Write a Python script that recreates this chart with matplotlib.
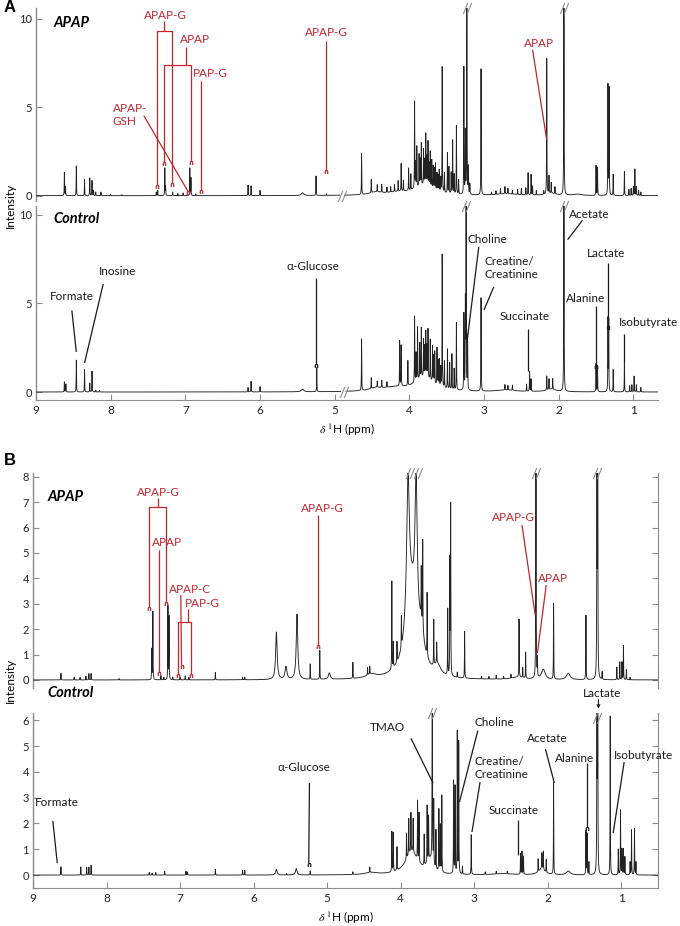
import numpy as np
import matplotlib
matplotlib.use("Agg")
import matplotlib.pyplot as plt
from matplotlib.path import Path

plt.rcParams['font.family'] = ['Lato', 'DejaVu Sans']
plt.rcParams['mathtext.fontset'] = 'stix'

# ---------------- data: peak lists (ppm, intensity) ----------------
# Panel A, APAP
a_apap_ppm = [8.62, 8.605, 8.46, 8.35, 8.28, 8.25, 8.23, 8.20, 8.13, 8.00, 7.85, 7.39, 7.37, 7.275, 7.265,
              7.17, 7.10, 7.03, 6.94, 6.925, 6.86, 6.16, 6.12, 6.00, 5.25, 5.11,
              4.64, 4.51, 4.43, 4.37, 4.30, 4.25, 4.20, 4.15, 4.11, 4.08, 4.01, 3.98, 3.93, 3.915, 3.90,
              3.87, 3.855, 3.84, 3.81, 3.795, 3.78, 3.765, 3.75, 3.735, 3.72, 3.70, 3.68, 3.665, 3.65,
              3.63, 3.615, 3.60, 3.58, 3.56, 3.53, 3.49, 3.47, 3.44, 3.42, 3.40, 3.37, 3.34, 3.27, 3.25,
              3.23, 3.21, 3.19, 3.04, 2.90, 2.84, 2.78, 2.72, 2.68, 2.62, 2.55, 2.50, 2.44, 2.41, 2.37,
              2.35, 2.30, 2.20, 2.16, 2.13, 2.10, 2.05, 1.93, 1.50, 1.48, 1.34, 1.325, 1.27, 1.12, 1.06,
              1.03, 1.00, 0.98, 0.96, 0.93, 0.90]
a_apap_int = [1.30, 0.50, 1.68, 0.92, 1.00, 0.85, 0.30, 0.20, 0.20, 0.08, 0.05, 0.20, 0.30, 1.55, 0.50,
              0.20, 0.12, 0.15, 1.55, 1.00, 0.10, 0.60, 0.55, 0.30, 1.10, 0.08,
              2.34, 0.74, 0.40, 0.45, 0.30, 0.30, 0.40, 0.60, 1.55, 0.60, 1.26, 0.90, 4.93, 1.40, 2.30,
              1.80, 1.50, 2.39, 2.00, 1.40, 2.86, 1.60, 2.50, 1.30, 2.00, 1.60, 1.30, 1.20, 1.50,
              1.00, 0.90, 1.20, 0.80, 7.16, 1.10, 2.30, 1.50, 1.20, 3.05, 1.10, 3.88, 0.80, 7.16, 3.50,
              15.0, 1.50, 0.60, 7.14, 0.15, 0.20, 0.30, 0.40, 0.30, 0.20, 0.30, 0.35, 0.40, 1.26, 1.17,
              0.50, 0.25, 0.20, 7.70, 1.00, 0.60, 0.40, 15.0, 1.70, 1.60, 6.25, 6.10, 1.20, 1.36, 0.35,
              0.40, 0.50, 1.50, 0.50, 0.30, 0.20]
a_apap_broad_ppm = [3.80, 4.15, 2.70, 2.10, 1.75, 5.43, 4.45]
a_apap_broad_int = [0.55, 0.15, 0.10, 0.12, 0.08, 0.15, 0.15]
a_apap_broad_wid = [0.15, 0.20, 0.15, 0.08, 0.06, 0.02, 0.10]

# Panel A, Control
a_ctrl_ppm = [8.62, 8.60, 8.46, 8.35, 8.28, 8.25, 8.20, 8.15, 6.16, 6.12, 6.00, 5.24,
              4.64, 4.51, 4.43, 4.37, 4.30, 4.13, 4.11, 4.02, 3.93, 3.91, 3.89, 3.86, 3.84, 3.81, 3.795,
              3.78, 3.765, 3.75, 3.72, 3.69, 3.675, 3.66, 3.63, 3.615, 3.60, 3.58, 3.56, 3.53, 3.49,
              3.46, 3.43, 3.40, 3.37, 3.27, 3.25, 3.24, 3.22, 3.04, 2.72, 2.68, 2.62, 2.43, 2.39, 2.37,
              2.16, 2.13, 2.08, 1.93, 1.50, 1.48, 1.34, 1.33, 1.27, 1.12, 1.05, 1.02, 0.99, 0.96, 0.90]
a_ctrl_int = [0.57, 0.45, 1.80, 1.26, 0.50, 1.17, 0.10, 0.10, 0.25, 0.60, 0.30, 1.36,
              2.92, 0.60, 0.35, 0.40, 0.30, 2.55, 2.30, 1.40, 3.74, 1.60, 3.00, 2.00, 2.83, 2.10, 1.70,
              2.55, 1.80, 2.77, 2.30, 2.00, 1.50, 1.80, 2.10, 1.40, 1.50, 1.10, 7.58, 1.50, 2.26,
              1.50, 2.00, 1.20, 3.83, 4.28, 4.70, 15.0, 3.00, 5.28, 0.30, 0.25, 0.30, 0.40, 1.13, 0.70,
              0.80, 0.60, 0.60, 15.0, 1.60, 1.50, 4.10, 4.00, 1.26, 1.70, 0.35, 0.40, 0.89, 0.40, 0.25]
a_ctrl_broad_ppm = [3.80, 4.20, 2.70, 2.10, 5.43, 4.45]
a_ctrl_broad_int = [0.80, 0.20, 0.10, 0.15, 0.15, 0.15]
a_ctrl_broad_wid = [0.15, 0.20, 0.15, 0.08, 0.02, 0.10]

# Panel B, APAP
b_apap_ppm = [8.62, 8.44, 8.36, 8.28, 8.24, 8.21, 7.83, 7.385, 7.37, 7.26, 7.22, 7.165, 7.15, 7.10,
              7.00, 6.93, 6.88, 6.52, 6.15, 6.12, 5.23, 5.10, 4.65, 4.45, 4.42, 4.12, 4.10, 4.05, 3.99,
              3.72, 3.70, 3.64, 3.55, 3.51, 3.36, 3.33, 3.32, 3.23, 3.13, 2.90, 2.80,
              2.70, 2.60, 2.50, 2.39, 2.34, 2.30, 2.16, 2.14, 1.92, 1.48, 1.33, 1.32, 1.26, 1.06, 1.02,
              0.99, 0.97, 0.93, 0.88]
b_apap_int = [0.26, 0.10, 0.10, 0.15, 0.25, 0.25, 0.05, 1.20, 2.70, 0.15, 0.10, 2.90, 2.50, 0.10,
              0.10, 0.15, 0.10, 0.30, 0.10, 0.10, 0.60, 1.15, 0.63, 0.30, 0.30, 3.50, 1.00, 0.80, 1.20,
              2.00, 3.50, 2.50, 1.80, 0.80, 2.60, 4.47, 6.70, 0.20, 1.84, 0.10, 0.10,
              0.15, 0.10, 0.15, 2.28, 0.40, 1.03, 15.0, 0.70, 2.99, 2.54, 15.0, 12.0, 0.30, 0.50, 0.70,
              0.70, 1.34, 0.40, 0.10]
b_apap_broad_ppm = [5.69, 5.56, 5.41, 4.97, 3.85, 3.90, 3.79, 3.72, 3.50, 2.06, 1.72, 4.40, 2.40]
b_apap_broad_int = [1.87, 0.50, 2.57, 0.25, 3.20, 5.50, 5.50, 1.00, 0.40, 0.40, 0.25, 0.15, 0.10]
b_apap_broad_wid = [0.012, 0.015, 0.012, 0.015, 0.09, 0.022, 0.018, 0.05, 0.05, 0.03, 0.03, 0.08, 0.10]

# Panel B, Control
b_ctrl_ppm = [8.62, 8.35, 8.27, 8.24, 8.21, 7.42, 7.38, 7.33, 7.21, 6.92, 6.90, 6.52, 6.15, 6.12, 5.55,
              5.23, 4.65, 4.42, 4.12, 4.10, 4.05, 3.92, 3.89, 3.86, 3.83, 3.77, 3.75, 3.68, 3.64, 3.62,
              3.57, 3.55, 3.52, 3.48, 3.46, 3.44, 3.28, 3.26, 3.23, 3.21, 3.16, 3.04, 2.85, 2.70, 2.55,
              2.37, 2.35, 2.33, 2.13, 2.08, 2.06, 2.02, 1.92, 1.48, 1.465, 1.44, 1.33, 1.32, 1.15, 1.04,
              1.01, 0.99, 0.97, 0.95, 0.88, 0.86, 0.82, 0.80]
b_ctrl_int = [0.32, 0.32, 0.30, 0.30, 0.38, 0.10, 0.08, 0.10, 0.15, 0.15, 0.12, 0.22, 0.18, 0.18, 0.05,
              0.15, 0.10, 0.20, 1.57, 1.50, 0.90, 1.00, 1.40, 1.50, 1.30, 2.30, 1.90, 1.20, 2.20, 1.70,
              12.0, 2.50, 1.50, 2.40, 1.80, 3.00, 3.60, 3.40, 5.50, 5.16, 0.30, 1.55, 0.10, 0.10, 0.10,
              0.80, 0.90, 0.70, 0.50, 0.60, 0.70, 0.50, 3.55, 1.70, 1.60, 0.50, 12.0, 11.0, 6.20, 1.00,
              2.50, 1.00, 1.00, 0.70, 0.50, 1.75, 1.80, 0.50]
b_ctrl_broad_ppm = [5.69, 5.42, 3.85, 3.60, 2.08, 1.72, 4.40, 2.60]
b_ctrl_broad_int = [0.22, 0.25, 0.90, 0.50, 0.25, 0.15, 0.08, 0.05]
b_ctrl_broad_wid = [0.012, 0.012, 0.10, 0.05, 0.05, 0.03, 0.10, 0.15]

# tick labels
x_ticks = [9, 8, 7, 6, 5, 4, 3, 2, 1]
a_yticks = [0, 5, 10]
b_apap_yticks = [0, 1, 2, 3, 4, 5, 6, 7, 8]
b_ctrl_yticks = [0, 1, 2, 3, 4, 5, 6]

RED = '#C1272D'
LINE = '#222222'
AXC = '#8c8c8c'
K = '#1a1a1a'
SHARP_W = 0.0022

W, H = 680, 926
fig = plt.figure(figsize=(W / 100, H / 100), dpi=100)


def add_ax(left, right, top, bottom):
    return fig.add_axes([left / W, 1 - bottom / H, (right - left) / W, (bottom - top) / H])


def spectrum(grid, ppm, inten, bppm, bint, bwid):
    y = np.zeros_like(grid)
    for p, h in zip(ppm, inten):
        y += h * SHARP_W ** 2 / ((grid - p) ** 2 + SHARP_W ** 2)
    for p, h, w in zip(bppm, bint, bwid):
        y += h * w ** 2 / ((grid - p) ** 2 + w ** 2)
    return y


arch = Path([(-0.35, -1.0), (-0.35, -0.25), (-0.2, 0.0), (0.2, 0.0), (0.35, -0.25), (0.35, -1.0)],
            [Path.MOVETO] + [Path.LINETO] * 5)
rectm = Path([(-0.35, -1.0), (-0.35, 0.0), (0.35, 0.0), (0.35, -1.0), (-0.35, -1.0)],
             [Path.MOVETO] + [Path.LINETO] * 4)
slash = Path([(-0.75, -1.0), (0.05, 1.0), (-0.05, -1.0), (0.75, 1.0)],
             [Path.MOVETO, Path.LINETO, Path.MOVETO, Path.LINETO])


def style(ax, xlim, ylim, yticks, bottom=False, right=False):
    ax.set_xlim(*xlim)
    ax.set_ylim(*ylim)
    ax.patch.set_alpha(0)
    for s in ['top', 'right', 'bottom', 'left']:
        ax.spines[s].set_visible(False)
    ax.spines['left'].set_visible(True)
    ax.spines['left'].set_color(AXC)
    ax.spines['left'].set_linewidth(1.0)
    ax.set_yticks(yticks)
    ax.tick_params(axis='y', direction='in', length=4, color=AXC, labelsize=8, labelcolor='#222',
                   right=right, pad=3)
    if right:
        ax.spines['right'].set_visible(True)
        ax.spines['right'].set_color(AXC)
    if bottom:
        ax.spines['bottom'].set_visible(True)
        ax.spines['bottom'].set_color(AXC)
        ax.set_xticks(x_ticks)
        ax.set_xticklabels([str(t) for t in x_ticks])
        ax.tick_params(axis='x', direction='in', length=4, color=AXC, labelsize=8.5, labelcolor='#222')
    else:
        ax.set_xticks([])


def end_mark(ax, x, y, color, m=None):
    ax.plot([x], [y], marker=m if m is not None else arch, ms=5, mfc='none', mec=color, mew=0.9,
            clip_on=False, zorder=6, linestyle='none')


def draw_line(ax, xs, ys, color, end=None, lw=0.9):
    ax.plot(xs, ys, color=color, lw=lw, clip_on=False, solid_capstyle='butt', zorder=5)
    if end is not None:
        end_mark(ax, xs[-1], ys[-1], color, end)


def label(ax, x, y, s, color, ha='center', fs=8.5):
    ax.text(x, y, s, color=color, ha=ha, va='center', fontsize=fs, zorder=7, linespacing=1.25)


def breaks(ax, pts):
    for x, y in pts:
        ax.plot([x], [y], marker=slash, ms=8, mec=AXC, mew=0.8, linestyle='none', clip_on=False, zorder=6)


def plot_spec(ax, grid, y, gap=None):
    y = y.copy()
    if gap is not None:
        y[(grid < gap[0]) & (grid > gap[1])] = np.nan
    ax.plot(grid, y, color=LINE, lw=0.65, zorder=3)


# ---------------- Panel A ----------------
gridA = np.linspace(9.0, 0.6, 18000)
axA1 = add_ax(36, 658, 8, 201)
axA2 = add_ax(36, 658, 206, 400)
style(axA1, (9, 0.67), (-0.3, 10.6), a_yticks)
style(axA2, (9, 0.67), (-0.45, 10.5), a_yticks, bottom=True)

plot_spec(axA1, gridA, spectrum(gridA, a_apap_ppm, a_apap_int, a_apap_broad_ppm, a_apap_broad_int,
                                a_apap_broad_wid), gap=(4.93, 4.87))
plot_spec(axA2, gridA, spectrum(gridA, a_ctrl_ppm, a_ctrl_int, a_ctrl_broad_ppm, a_ctrl_broad_int,
                                a_ctrl_broad_wid), gap=(4.92, 4.85))
breaks(axA1, [(3.23, 10.6), (1.93, 10.6), (4.90, 0.0)])
breaks(axA2, [(3.24, 10.5), (1.93, 10.5), (4.87, 0.0)])

axA1.text(8.77, 9.75, 'APAP', fontsize=10.5, fontweight='bold', fontstyle='italic', va='center', ha='left')
axA2.text(8.77, 9.75, 'Control', fontsize=10.5, fontweight='bold', fontstyle='italic', va='center', ha='left')

# APAP annotations (A)
label(axA1, 7.27, 10.2, 'APAP-G', RED)
draw_line(axA1, [7.28, 7.28], [9.85, 9.3], RED)
draw_line(axA1, [7.378, 7.378, 7.18, 7.18], [0.6, 9.3, 9.3, 0.72], RED, end=arch)
end_mark(axA1, 7.378, 0.6, RED)
label(axA1, 6.87, 8.8, 'APAP', RED)
draw_line(axA1, [6.995, 6.995], [8.4, 7.4], RED)
draw_line(axA1, [7.28, 7.28, 6.93, 6.93], [1.9, 7.4, 7.4, 1.95], RED, end=arch)
end_mark(axA1, 7.28, 1.9, RED)
label(axA1, 6.66, 6.9, 'PAP-G', RED)
draw_line(axA1, [6.79, 6.79], [6.5, 0.3], RED, end=arch)
label(axA1, 7.97, 4.55, 'APAP-\nGSH', RED, ha='left')
draw_line(axA1, [7.556, 6.964], [4.52, 0.24], RED, end=arch)
label(axA1, 5.11, 9.2, 'APAP-G', RED)
draw_line(axA1, [5.11, 5.11], [8.75, 1.47], RED, end=arch)
label(axA1, 2.27, 8.6, 'APAP', RED)
draw_line(axA1, [2.35, 2.16], [8.25, 3.16], RED)

# Control annotations (A)
label(axA2, 8.52, 5.37, 'Formate', K)
draw_line(axA2, [8.52, 8.46], [4.6, 2.26], K)
label(axA2, 7.91, 6.8, 'Inosine', K)
draw_line(axA2, [8.10, 8.35], [6.1, 1.64], K)
label(axA2, 5.29, 7.1, 'α-Glucose', K)
draw_line(axA2, [5.25, 5.25], [6.45, 1.6], K, end=arch)
label(axA2, 2.96, 8.6, 'Choline', K)
draw_line(axA2, [3.07, 3.23], [8.2, 2.77], K)
label(axA2, 3.0, 7.0, 'Creatine/\nCreatinine', K, ha='left')
draw_line(axA2, [2.87, 3.0], [5.93, 4.63], K)
label(axA2, 2.45, 4.24, 'Succinate', K)
draw_line(axA2, [2.41, 2.41], [3.55, 1.19], K)
label(axA2, 1.59, 10.0, 'Acetate', K)
draw_line(axA2, [1.68, 1.88], [9.7, 8.6], K)
label(axA2, 1.37, 7.8, 'Lactate', K)
draw_line(axA2, [1.34, 1.34], [7.3, 3.7], K, end=rectm)
label(axA2, 1.64, 5.3, 'Alanine', K)
draw_line(axA2, [1.50, 1.50], [4.86, 1.5], K, end=arch)
label(axA2, 1.2, 3.9, 'Isobutyrate', K, ha='left')
draw_line(axA2, [1.12, 1.12], [3.3, 1.7], K)

axA2.set_xlabel(r'$\delta$ $^{1}$H (ppm)', fontsize=8.5, labelpad=4)
fig.text(10 / W, 1 - 205 / H, 'Intensity', rotation=90, fontsize=8.5, ha='center', va='center')
fig.text(4 / W, 1 - 8 / H, 'A', fontsize=12, fontweight='bold', family='Liberation Sans', ha='left', va='center')

# ---------------- Panel B ----------------
gridB = np.linspace(9.0, 0.5, 18000)
axB1 = add_ax(33, 658, 473, 687.6)
axB2 = add_ax(33, 658, 712.5, 888)
style(axB1, (9, 0.5), (-0.3, 8.15), b_apap_yticks, right=True)
style(axB2, (9, 0.5), (-0.5, 6.3), b_ctrl_yticks, bottom=True, right=True)

plot_spec(axB1, gridB, spectrum(gridB, b_apap_ppm, b_apap_int, b_apap_broad_ppm, b_apap_broad_int,
                                b_apap_broad_wid))
plot_spec(axB2, gridB, spectrum(gridB, b_ctrl_ppm, b_ctrl_int, b_ctrl_broad_ppm, b_ctrl_broad_int,
                                b_ctrl_broad_wid))
breaks(axB1, [(3.87, 8.15), (3.77, 8.15), (2.16, 8.15), (1.33, 8.15)])
breaks(axB2, [(3.57, 6.3), (1.33, 6.1)])

axB1.text(8.8, 7.2, 'APAP', fontsize=10.5, fontweight='bold', fontstyle='italic', va='center', ha='left')
axB2.text(8.8, 7.05, 'Control', fontsize=10.5, fontweight='bold', fontstyle='italic', va='center', ha='left')

label(axB1, 7.295, 7.4, 'APAP-G', RED)
draw_line(axB1, [7.295, 7.295], [7.15, 6.8], RED)
draw_line(axB1, [7.42, 7.42, 7.19, 7.19], [2.87, 6.8, 6.8, 3.07], RED, end=arch)
end_mark(axB1, 7.42, 2.87, RED)
label(axB1, 7.18, 5.4, 'APAP', RED)
draw_line(axB1, [7.29, 7.29], [5.1, 0.33], RED, end=arch)
label(axB1, 6.86, 3.58, 'APAP-C', RED)
draw_line(axB1, [6.99, 6.98], [3.35, 0.6], RED, end=arch)
label(axB1, 6.70, 3.03, 'PAP-G', RED)
draw_line(axB1, [6.895, 6.895], [2.78, 2.3], RED)
draw_line(axB1, [7.03, 7.03, 6.85, 6.85], [0.24, 2.3, 2.3, 0.24], RED, end=arch)
end_mark(axB1, 7.03, 0.24, RED)
label(axB1, 5.07, 6.77, 'APAP-G', RED)
draw_line(axB1, [5.12, 5.12], [6.5, 1.38], RED, end=arch)
label(axB1, 2.47, 6.38, 'APAP-G', RED)
draw_line(axB1, [2.35, 2.17], [6.1, 2.56], RED)
label(axB1, 1.93, 4.0, 'APAP', RED)
draw_line(axB1, [2.02, 2.14], [3.74, 1.06], RED)

label(axB2, 8.67, 2.8, 'Formate', K)
draw_line(axB2, [8.73, 8.67], [2.1, 0.46], K)
label(axB2, 5.31, 4.15, 'α-Glucose', K)
draw_line(axB2, [5.24, 5.25], [3.57, 0.46], K, end=arch)
label(axB2, 4.18, 5.7, 'TMAO', K)
draw_line(axB2, [3.86, 3.56], [5.3, 3.57], K)
label(axB2, 2.73, 5.9, 'Choline', K)
draw_line(axB2, [2.95, 3.20], [5.6, 2.83], K)
label(axB2, 2.99, 4.15, 'Creatine/\nCreatinine', K, ha='left')
draw_line(axB2, [2.92, 3.03], [3.6, 1.67], K)
label(axB2, 2.46, 2.52, 'Succinate', K)
draw_line(axB2, [2.40, 2.40], [2.13, 0.78], K)
label(axB2, 2.0, 5.3, 'Acetate', K)
draw_line(axB2, [2.03, 1.91], [4.88, 3.57], K)
label(axB2, 1.63, 4.5, 'Alanine', K)
draw_line(axB2, [1.46, 1.46], [4.33, 1.86], K, end=arch)
label(axB2, 1.26, 7.05, 'Lactate', K)
axB2.annotate('', xy=(1.31, 6.45), xytext=(1.31, 6.8), annotation_clip=False,
              arrowprops=dict(arrowstyle='->', color=K, lw=0.8, shrinkA=0, shrinkB=0,
                              mutation_scale=5))
label(axB2, 0.7, 4.65, 'Isobutyrate', K)
draw_line(axB2, [0.96, 1.11], [4.38, 1.63], K)

axB2.set_xlabel(r'$\delta$ $^{1}$H (ppm)', fontsize=8.5, labelpad=4)
fig.text(10 / W, 1 - 680 / H, 'Intensity', rotation=90, fontsize=8.5, ha='center', va='center')
fig.text(4 / W, 1 - 460 / H, 'B', fontsize=12, fontweight='bold', family='Liberation Sans', ha='left', va='center')

fig.savefig('out.png', dpi=100)
